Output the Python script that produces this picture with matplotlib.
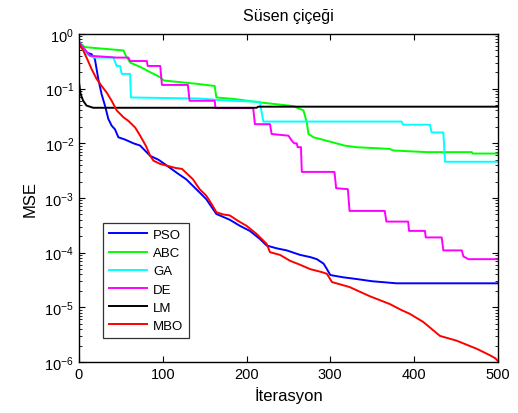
import math
import matplotlib
matplotlib.use("Agg")
import matplotlib.pyplot as plt
from matplotlib.ticker import FixedLocator, FuncFormatter, NullFormatter, MultipleLocator

plt.rcParams['font.family'] = ['Liberation Sans', 'DejaVu Sans']
plt.rcParams['mathtext.default'] = 'regular'

# Convergence curves (iteration, MSE) for each training algorithm
pso_iter = [0, 5, 9, 15, 19, 23, 27, 31, 35, 39, 43, 47, 55, 65, 73, 85, 95, 105, 118, 128,
            140, 152, 164, 180, 192, 204, 216, 224, 236, 248, 264, 276, 284, 292, 296, 300,
            315, 331, 350, 379, 420, 460, 500]
pso_mse = [0.66, 0.56, 0.457, 0.427, 0.347, 0.151, 0.079, 0.049, 0.028, 0.021, 0.018, 0.0129,
           0.0117, 0.010, 0.0091, 0.0059, 0.0050, 0.0039, 0.0028, 0.0022, 0.00145, 0.00095,
           0.00051, 0.00040, 0.00031, 0.00025, 0.000178, 0.000135, 0.00012, 0.00011, 9.1e-5,
           8.3e-5, 7.6e-5, 6.3e-5, 5.0e-5, 3.9e-5, 3.55e-5, 3.3e-5, 3.0e-5, 2.75e-5, 2.75e-5,
           2.75e-5, 2.75e-5]

abc_iter = [0, 7, 53, 56, 61, 73, 85, 97, 101, 140, 162, 164, 184, 216, 256, 268, 272, 274,
            280, 300, 317, 331, 371, 375, 415, 469, 470, 500]
abc_mse = [0.71, 0.575, 0.50, 0.40, 0.30, 0.25, 0.20, 0.162, 0.141, 0.123, 0.112, 0.069, 0.065,
           0.056, 0.048, 0.040, 0.024, 0.0148, 0.0129, 0.0107, 0.0091, 0.0085, 0.0079, 0.0074,
           0.0069, 0.0069, 0.0065, 0.0065]

ga_iter = [0, 9, 17, 41, 45, 49, 51, 61, 62, 144, 180, 216, 220, 385, 387, 419, 421, 435, 437, 500]
ga_mse = [0.76, 0.43, 0.37, 0.37, 0.26, 0.26, 0.186, 0.186, 0.069, 0.066, 0.060, 0.0575, 0.025,
          0.025, 0.0219, 0.0219, 0.0158, 0.0158, 0.0046, 0.0046]

de_iter = [0, 13, 45, 59, 61, 81, 82, 97, 99, 130, 132, 162, 163, 208, 210, 228, 230, 250, 254,
           257, 260, 261, 265, 266, 305, 307, 321, 323, 365, 367, 393, 394, 413, 414, 433, 435,
           457, 459, 465, 500]
de_mse = [0.71, 0.40, 0.37, 0.37, 0.32, 0.32, 0.26, 0.26, 0.117, 0.117, 0.060, 0.060, 0.044,
          0.044, 0.0224, 0.0224, 0.0148, 0.0138, 0.0112, 0.0100, 0.0100, 0.0085, 0.0085, 0.0030,
          0.0030, 0.00151, 0.00145, 0.00058, 0.00058, 0.00037, 0.00037, 0.00025, 0.00025,
          0.00019, 0.00019, 0.00011, 0.00011, 8.5e-5, 7.6e-5, 7.6e-5]

lm_iter = [0, 2, 5, 9, 17, 60, 212, 214, 500]
lm_mse = [0.13, 0.079, 0.060, 0.049, 0.0447, 0.0447, 0.0447, 0.0468, 0.0468]

mbo_iter = [0, 5, 9, 15, 21, 27, 33, 39, 45, 53, 59, 67, 73, 80, 85, 89, 97, 105, 115, 123, 136,
            144, 152, 158, 164, 172, 180, 190, 200, 212, 224, 228, 240, 252, 264, 276, 290, 296,
            302, 323, 347, 371, 385, 395, 411, 431, 451, 475, 491, 497, 500]
mbo_mse = [0.66, 0.50, 0.37, 0.229, 0.151, 0.112, 0.085, 0.060, 0.040, 0.030, 0.0257, 0.0195,
           0.0138, 0.0089, 0.0059, 0.0048, 0.0042, 0.0039, 0.00355, 0.0034, 0.0022, 0.00145,
           0.0011, 0.00079, 0.00055, 0.00050, 0.00048, 0.00038, 0.00031, 0.00022, 0.000145,
           0.000102, 9.1e-5, 7.1e-5, 6.0e-5, 5.0e-5, 4.4e-5, 4.1e-5, 2.9e-5, 2.35e-5, 1.6e-5,
           1.15e-5, 8.9e-6, 7.6e-6, 5.4e-6, 3.0e-6, 2.45e-6, 1.74e-6, 1.32e-6, 1.17e-6, 1.05e-6]

series = [
    ("PSO", pso_iter, pso_mse, "#0000ff"),
    ("ABC", abc_iter, abc_mse, "#00ff00"),
    ("GA", ga_iter, ga_mse, "#00ffff"),
    ("DE", de_iter, de_mse, "#ff00ff"),
    ("LM", lm_iter, lm_mse, "#000000"),
    ("MBO", mbo_iter, mbo_mse, "#ff0000"),
]

decades = list(range(-6, 1))

fig = plt.figure(figsize=(5.18, 4.14), dpi=100)
ax = fig.add_axes([0.1525, 0.1232, 0.8085, 0.7923])

for name, xs, ys, color in series:
    ax.semilogy(xs, ys, color=color, lw=1.4, label=name)

ax.set_xlim(0, 500)
ax.set_ylim(1e-6, 1)
ax.xaxis.set_major_locator(MultipleLocator(100))
ax.yaxis.set_major_locator(FixedLocator([10.0 ** d for d in decades]))
ax.yaxis.set_minor_locator(FixedLocator([k * 10.0 ** d for d in decades[:-1] for k in range(2, 10)]))
ax.yaxis.set_minor_formatter(NullFormatter())
ax.yaxis.set_major_formatter(FuncFormatter(lambda v, p: r'$10^{%d}$' % round(math.log10(v))))

ax.tick_params(which='both', direction='in', top=True, right=True, labelsize=10.5)
ax.tick_params(which='major', length=4.5, width=0.8)
ax.tick_params(which='minor', length=2.5, width=0.6)
for s in ax.spines.values():
    s.set_linewidth(1.0)

ax.set_title("Süsen çiçeği", fontsize=11.5, pad=10)
ax.set_xlabel("İterasyon", fontsize=12, labelpad=4)
ax.set_ylabel("MSE", fontsize=12, labelpad=5)

leg = ax.legend(loc='upper left', bbox_to_anchor=(0.057, 0.424), borderaxespad=0,
                fontsize=9.5, frameon=True, fancybox=False, edgecolor='black',
                handlelength=2.9, handletextpad=0.45, labelspacing=0.45, borderpad=0.45)
leg.get_frame().set_linewidth(0.9)

fig.savefig("out.png", dpi=100)
